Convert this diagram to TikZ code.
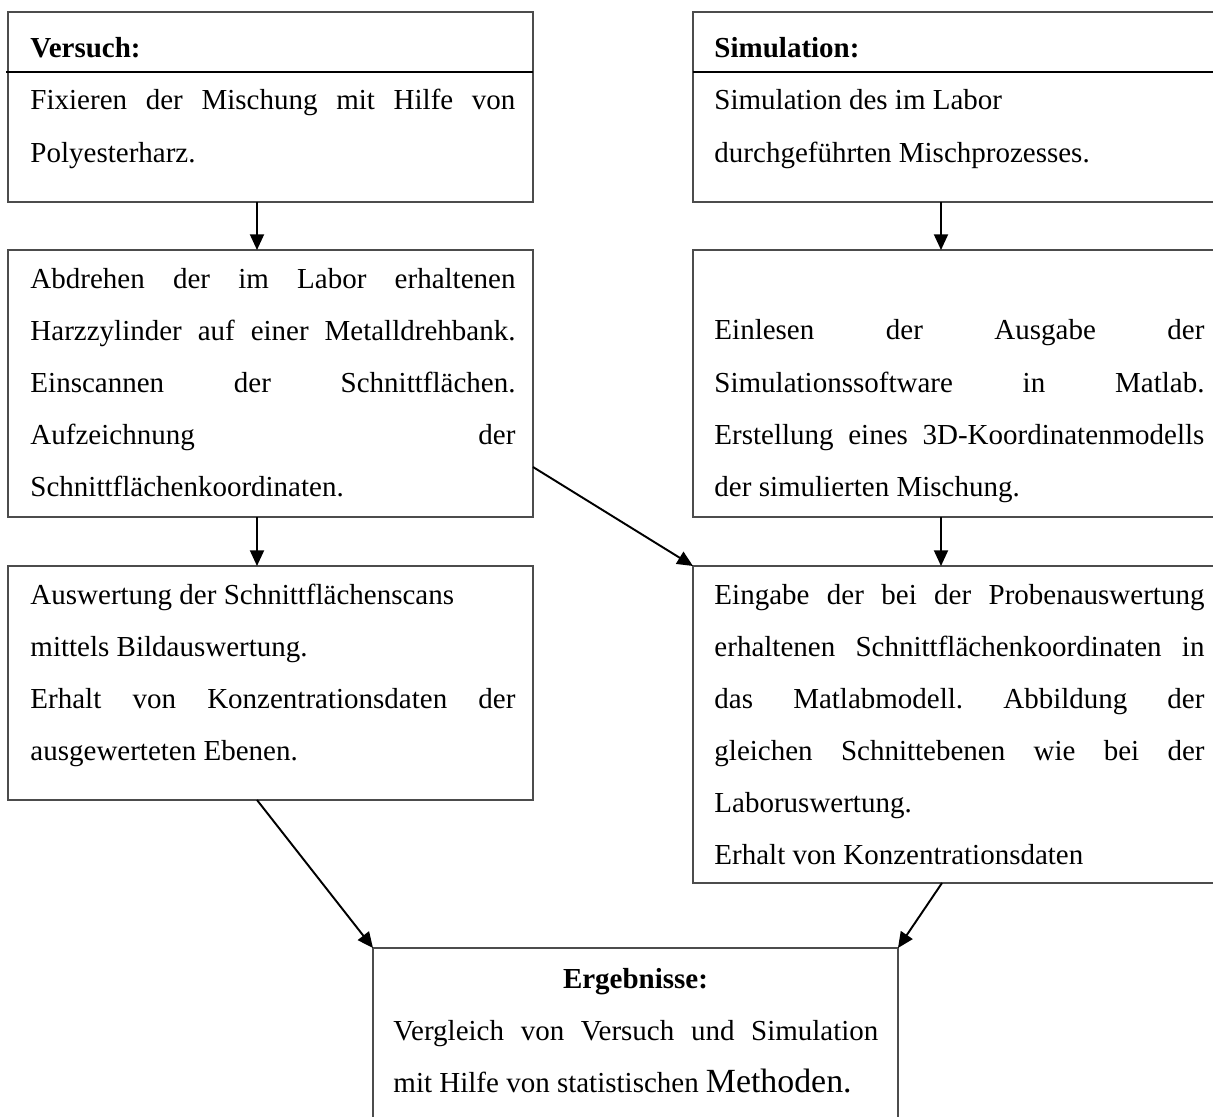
\documentclass[tikz,border=0pt]{standalone}
\usepackage{fontspec}
\setmainfont{Liberation Serif}
\usetikzlibrary{arrows.meta,fit,calc}
\frenchspacing
\newlength\pxu
\setlength\pxu{0.4138pt}
\newcommand\jl[1]{\makebox[\linewidth][s]{#1}}
\newcommand\blk[2]{\parbox[t]{#1\pxu}{\fontsize{12}{21.52}\selectfont #2}}
\begin{document}
\begin{tikzpicture}[x=0.4138pt, y=-0.4138pt,
  bx/.style={draw=black!70, line width=0.55pt, inner sep=0pt, outer sep=0pt},
  txt/.style={inner sep=0pt, anchor=base west, font=\fontsize{12}{21.52}\selectfont},
  arr/.style={draw=black, line width=0.8pt, -{Triangle[length=6.5pt,width=5.8pt]}},
  seprule/.style={draw=black, line width=0.85pt}]
\fill[white] (0,0) rectangle (1213,1117);
\useasboundingbox (0,0) rectangle (1213,1117);
% boxes
\node[bx, fit={(8,12)(533,72)}] (vh) {};
\node[bx, fit={(8,72)(533,202)}] (v1) {};
\node[bx, fit={(8,250)(533,517)}] (v2) {};
\node[bx, fit={(8,566)(533,800)}] (v3) {};
\node[bx, fit={(693,12)(1220,72)}] (sh) {};
\node[bx, fit={(693,72)(1220,202)}] (s1) {};
\node[bx, fit={(693,250)(1220,517)}] (s2) {};
\node[bx, fit={(693,566)(1220,883)}] (s3) {};
\node[bx, fit={(373,948)(898,1135)}] (res) {};
\draw[seprule] ($(vh.south west)+(-2,0)$) -- (vh.south east);
\draw[seprule] (sh.south west) -- (sh.south east);
% texts
\node[txt] (vht) at (30,58) {\bfseries Versuch:};
\node[txt] (v1t) at (30,110) {\blk{485}{\jl{Fixieren der Mischung mit Hilfe von}\\Polyesterharz.}};
\node[txt] (v2t) at (30,288) {\blk{485}{\jl{Abdrehen der im Labor erhaltenen}\\\jl{Harzzylinder auf einer Metalldrehbank.}\\\jl{Einscannen der Schnittflächen.}\\\jl{Aufzeichnung der}\\Schnittflächenkoordinaten.}};
\node[txt] (v3t) at (30,604) {\blk{485}{Auswertung der Schnittflächenscans\\mittels Bildauswertung.\\\jl{Erhalt von Konzentrationsdaten der}\\ausgewerteten Ebenen.}};
\node[txt] (sht) at (714,58) {\bfseries Simulation:};
\node[txt] (s1t) at (714,110) {\blk{490}{Simulation des im Labor\\durchgeführten Mischprozesses.}};
\node[txt] (s2t) at (714,340) {\blk{490}{\jl{Einlesen der Ausgabe der}\\\jl{Simulationssoftware in Matlab.}\\\jl{Erstellung eines 3D-Koordinatenmodells}\\der simulierten Mischung.}};
\node[txt] (s3t) at (714,604) {\blk{490}{\jl{Eingabe der bei der Probenauswertung}\\\jl{erhaltenen Schnittflächenkoordinaten in}\\\jl{das Matlabmodell. Abbildung der}\\\jl{gleichen Schnittebenen wie bei der}\\Laboruswertung.\\Erhalt von Konzentrationsdaten}};
\node[txt, anchor=base] (rest) at (635.5,988) {\bfseries Ergebnisse:};
\node[txt] (resb) at (393,1040) {\blk{485}{\jl{Vergleich von Versuch und Simulation}\\mit Hilfe von statistischen {\fontsize{14}{21.52}\selectfont Methoden.}}};
% connectors
\coordinate (lc) at (257,0);
\coordinate (rc) at (941,0);
\coordinate (rc2) at (942,0);
\draw[arr] (v1.south -| lc) -- (v2.north -| lc);
\draw[arr] (v2.south -| lc) -- (v3.north -| lc);
\draw[arr] (s1.south -| rc) -- (s2.north -| rc);
\draw[arr] (s2.south -| rc) -- (s3.north -| rc);
\draw[arr] ($(v2.south east)+(0,-50)$) -- (s3.north west);
\draw[arr] (v3.south -| lc) -- (res.north west);
\draw[arr] (s3.south -| rc2) -- (res.north east);
\end{tikzpicture}
\end{document}
